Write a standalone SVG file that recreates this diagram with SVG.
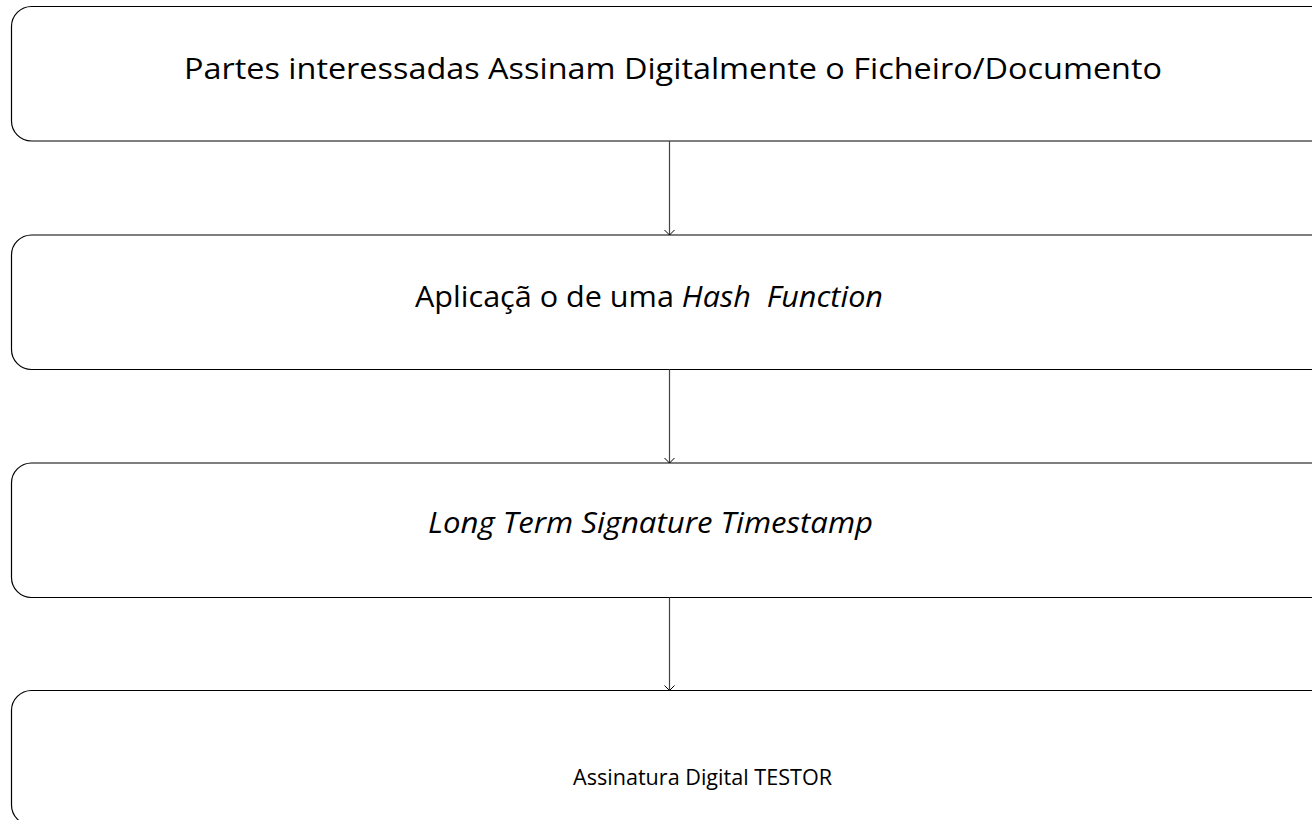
<svg xmlns="http://www.w3.org/2000/svg" width="1312" height="820" viewBox="0 0 1312 820">
<style>
.box{fill:#fff;stroke:#000;stroke-width:1.2}
.t{font-family:"Open Sans",Lato,sans-serif;fill:#000;text-anchor:middle}
.i{font-style:italic}
.c{stroke:#444;stroke-width:1.2;fill:none}
</style>
<defs>
<marker id="ah" markerWidth="8" markerHeight="12" refX="7" refY="6" orient="auto" markerUnits="userSpaceOnUse" viewBox="0 0 8 12">
<path d="M2,1 L7,6 L2,11" fill="none" stroke="#000" stroke-width="1"/>
</marker>
</defs>
<rect width="1312" height="820" fill="#fff"/>
<g id="n1">
<rect class="box" x="11.5" y="6.5" width="1320" height="134.5" rx="20" ry="20"/>
<text class="t" x="673" y="79" font-size="29" textLength="978" lengthAdjust="spacingAndGlyphs">Partes interessadas Assinam Digitalmente o Ficheiro/Documento</text>
</g>
<g id="n2">
<rect class="box" x="11.5" y="235" width="1320" height="134.5" rx="20" ry="20"/>
<text class="t" x="649" y="307" font-size="29" textLength="468" lengthAdjust="spacingAndGlyphs" xml:space="preserve">Aplicaçã o de uma <tspan class="i">Hash  Function</tspan></text>
</g>
<g id="n3">
<rect class="box" x="11.5" y="463" width="1320" height="134.5" rx="20" ry="20"/>
<text class="t i" x="650.5" y="533" font-size="29" textLength="445" lengthAdjust="spacingAndGlyphs">Long Term Signature Timestamp</text>
</g>
<g id="n4">
<rect class="box" x="11.5" y="690.5" width="1320" height="134.5" rx="20" ry="20"/>
<text class="t" x="702.5" y="785" font-size="21" textLength="259" lengthAdjust="spacingAndGlyphs">Assinatura Digital TESTOR</text>
</g>
<g id="connectors">
<line class="c" x1="669.5" y1="141" x2="669.5" y2="235" marker-end="url(#ah)"/>
<line class="c" x1="669.5" y1="369.5" x2="669.5" y2="463" marker-end="url(#ah)"/>
<line class="c" x1="669.5" y1="597.5" x2="669.5" y2="690.5" marker-end="url(#ah)"/>
</g>
</svg>
